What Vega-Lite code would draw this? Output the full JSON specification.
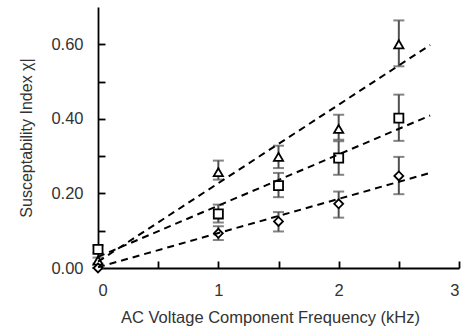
{
  "$schema": "https://vega.github.io/schema/vega-lite/v6.json",
  "width": 361,
  "height": 261,
  "autosize": {"type": "none"},
  "padding": {"left": 98, "top": 7, "right": 10, "bottom": 67},
  "background": "white",
  "resolve": {"axis": {"x": "independent", "y": "independent"}},
  "config": {
    "view": {"stroke": null},
    "axis": {"labelFont": "Liberation Sans", "titleFont": "Liberation Sans", "labelFontSize": 16.5, "titleFontSize": 16.5, "labelColor": "#333333", "titleColor": "#333333", "titleFontWeight": "normal", "domainColor": "black", "domainWidth": 1.8, "tickColor": "black", "tickWidth": 1.8, "grid": false}
  },
  "datasets": {
    "pts": [
      {"series": "Triangle", "x": 0, "y": 0.02, "lo": 0.012, "hi": 0.028},
      {"series": "Triangle", "x": 1, "y": 0.257, "lo": 0.237, "hi": 0.288},
      {"series": "Triangle", "x": 1.5, "y": 0.298, "lo": 0.268, "hi": 0.328},
      {"series": "Triangle", "x": 2, "y": 0.373, "lo": 0.344, "hi": 0.411},
      {"series": "Triangle", "x": 2.5, "y": 0.6, "lo": 0.541, "hi": 0.664},
      {"series": "Square", "x": 0, "y": 0.05, "lo": 0.04, "hi": 0.06},
      {"series": "Square", "x": 1, "y": 0.145, "lo": 0.122, "hi": 0.17},
      {"series": "Square", "x": 1.5, "y": 0.221, "lo": 0.19, "hi": 0.255},
      {"series": "Square", "x": 2, "y": 0.295, "lo": 0.25, "hi": 0.34},
      {"series": "Square", "x": 2.5, "y": 0.402, "lo": 0.341, "hi": 0.465},
      {"series": "Diamond", "x": 0, "y": 0.0, "lo": 0.0, "hi": 0.0},
      {"series": "Diamond", "x": 1, "y": 0.093, "lo": 0.075, "hi": 0.112},
      {"series": "Diamond", "x": 1.5, "y": 0.125, "lo": 0.098, "hi": 0.15},
      {"series": "Diamond", "x": 2, "y": 0.172, "lo": 0.135, "hi": 0.205},
      {"series": "Diamond", "x": 2.5, "y": 0.247, "lo": 0.198, "hi": 0.298}
    ],
    "trend": [
      {"series": "Triangle", "x": 0, "y": 0.017},
      {"series": "Triangle", "x": 2.76, "y": 0.598},
      {"series": "Square", "x": 0, "y": 0.03},
      {"series": "Square", "x": 2.76, "y": 0.409},
      {"series": "Diamond", "x": 0, "y": 0.002},
      {"series": "Diamond", "x": 2.76, "y": 0.255}
    ]
  },
  "layer": [
    {
      "data": {"name": "pts"},
      "mark": {"type": "rule", "color": "#505050", "strokeWidth": 2},
      "encoding": {
        "x": {"field": "x", "type": "quantitative", "scale": {"domain": [0, 3], "nice": false},
          "axis": {"orient": "bottom", "title": "AC Voltage  Component Frequency (kHz)", "values": [0, 1, 2, 3], "format": "d", "ticks": false, "labelPadding": 14, "titlePadding": 11, "titleX": 172, "titleAlign": "center"}},
        "y": {"field": "lo", "type": "quantitative", "scale": {"domain": [0, 0.7], "nice": false},
          "axis": {"orient": "left", "title": "Susceptability Index χ|", "titleFontSize": 16, "values": [0, 0.2, 0.4, 0.6], "format": ".2f", "ticks": false, "labelPadding": 15, "titlePadding": 16}},
        "y2": {"field": "hi"}
      }
    },
    {
      "data": {"name": "pts"},
      "mark": {"type": "tick", "orient": "horizontal", "color": "#505050", "thickness": 2, "size": 11},
      "encoding": {
        "x": {"field": "x", "type": "quantitative", "axis": null},
        "y": {"field": "lo", "type": "quantitative", "axis": null}
      }
    },
    {
      "data": {"name": "pts"},
      "mark": {"type": "tick", "orient": "horizontal", "color": "#505050", "thickness": 2, "size": 11},
      "encoding": {
        "x": {"field": "x", "type": "quantitative", "axis": null},
        "y": {"field": "hi", "type": "quantitative", "axis": null}
      }
    },
    {
      "data": {"name": "pts"},
      "mark": {"type": "point", "filled": false, "fill": "white", "fillOpacity": 1, "stroke": "black", "strokeWidth": 1.8, "opacity": 1},
      "encoding": {
        "x": {"field": "x", "type": "quantitative", "axis": null},
        "y": {"field": "y", "type": "quantitative", "axis": null},
        "shape": {"field": "series", "type": "nominal", "scale": {"domain": ["Triangle", "Square", "Diamond"], "range": ["triangle-up", "square", "diamond"]}, "legend": null},
        "size": {"field": "series", "type": "nominal", "scale": {"domain": ["Triangle", "Square", "Diamond"], "range": [85, 80, 110]}, "legend": null}
      }
    },
    {
      "data": {"name": "trend"},
      "mark": {"type": "line", "color": "black", "strokeWidth": 2, "strokeDash": [7, 5]},
      "encoding": {
        "x": {"field": "x", "type": "quantitative",
          "axis": {"orient": "bottom", "title": null, "labels": false, "domain": false, "ticks": true, "tickSize": 7, "offset": -7, "values": [0.5, 1, 1.5, 2, 2.5, 3]}},
        "y": {"field": "y", "type": "quantitative",
          "axis": {"orient": "left", "title": null, "labels": false, "domain": false, "ticks": true, "tickSize": 7, "offset": -7, "values": [0.1, 0.2, 0.3, 0.4, 0.5, 0.6]}},
        "detail": {"field": "series"}
      }
    }
  ]
}
